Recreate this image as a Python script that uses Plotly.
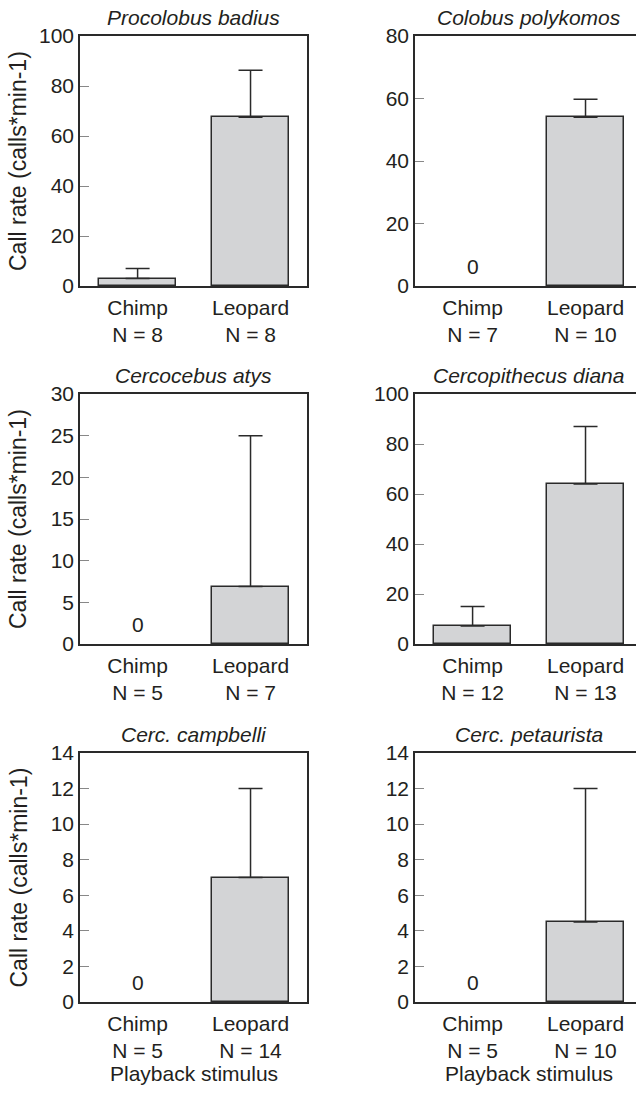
import plotly.graph_objects as go

# ---------------- data ----------------
species = ["Procolobus badius", "Colobus polykomos", "Cercocebus atys",
           "Cercopithecus diana", "Cerc. campbelli", "Cerc. petaurista"]
stimuli = ["Chimp", "Leopard"]
chimp_mean = [3.0, 0.0, 0.0, 7.2, 0.0, 0.0]
chimp_err_top = [7.0, None, None, 15.0, None, None]
leopard_mean = [67.5, 54.0, 6.9, 64.0, 7.0, 4.5]
leopard_err_top = [86.3, 59.8, 25.0, 87.0, 12.0, 12.0]
chimp_n = [8, 7, 5, 12, 5, 5]
leopard_n = [8, 10, 7, 13, 14, 10]
y_max = [100, 80, 30, 100, 14, 14]
y_dtick = [20, 20, 5, 20, 2, 2]
y_title = "Call rate (calls*min-1)"
x_title = "Playback stimulus"

# ---------------- layout constants ----------------
W, H = 636, 1094
FONT = "Liberation Sans, Arial, Helvetica, sans-serif"
INK = "#231f20"
EDGE = "#2a2a2a"
FILL = "#d3d4d6"
cols = [(80, 307, [-0.51, 1.5]), (415, 636, [-0.51, 1.447])]
rows = [(36, 286), (394, 644), (753, 1002)]

fig = go.Figure()
annotations = []
layout = {}

for i, name in enumerate(species):
    r, c = divmod(i, 2)
    x0, x1, xr = cols[c]
    ytop, ybot = rows[r]
    xa = "x" if i == 0 else f"x{i+1}"
    ya = "y" if i == 0 else f"y{i+1}"
    xkey = "xaxis" if i == 0 else f"xaxis{i+1}"
    ykey = "yaxis" if i == 0 else f"yaxis{i+1}"

    means = [chimp_mean[i], leopard_mean[i]]
    tops = [chimp_err_top[i], leopard_err_top[i]]
    plus = [(t - m) if t is not None else None for t, m in zip(tops, means)]
    minus = [0 if t is not None else None for t in tops]
    drawn = [m if m > 0 else None for m in means]  # zero means are shown as a "0" label

    fig.add_trace(go.Bar(
        x=[0, 1], y=drawn, width=0.68,
        marker=dict(color=FILL, line=dict(color=EDGE, width=1.5)),
        error_y=dict(type="data", symmetric=False, array=plus, arrayminus=minus,
                     color=EDGE, thickness=1.5, width=12),
        xaxis=xa, yaxis=ya, showlegend=False, hoverinfo="skip"))

    layout[xkey] = dict(
        domain=[x0 / W, x1 / W], range=xr, anchor=ya, automargin=False,
        tickvals=[0, 1],
        ticktext=[f"{stimuli[0]}<br>N = {chimp_n[i]}", f"{stimuli[1]}<br>N = {leopard_n[i]}"],
        showline=True, linecolor=EDGE, linewidth=1.5, mirror=True,
        ticks="", showgrid=False, zeroline=False, ticklabelstandoff=2,
        tickfont=dict(size=21, color=INK, family=FONT), fixedrange=True)
    layout[ykey] = dict(
        domain=[1 - ybot / H, 1 - ytop / H], range=[0, y_max[i]], anchor=xa,
        automargin=False,
        tick0=0, dtick=y_dtick[i], ticks="inside", ticklen=9, tickwidth=1,
        tickcolor="#888888",
        showline=True, linecolor=EDGE, linewidth=1.5, mirror=(c == 0),
        showgrid=False, zeroline=False,
        tickfont=dict(size=21, color=INK, family=FONT), fixedrange=True)

    cx = (x0 + (x0 + 227)) / 2 / W
    # panel title
    annotations.append(dict(
        text=f"<i>{name}</i>", xref="paper", yref="paper",
        x=cx, y=1 - ytop / H, xanchor="center", yanchor="bottom",
        yshift=5, showarrow=False, font=dict(size=21, color=INK, family=FONT)))

    # zero labels
    for k, m in enumerate(means):
        if m == 0:
            annotations.append(dict(
                text="0", xref=xa, yref=ya, x=k, y=0, xanchor="center", yanchor="bottom",
                yshift=6, showarrow=False, font=dict(size=21, color=INK, family=FONT)))

    # y title on left panels
    if c == 0:
        annotations.append(dict(
            text=y_title, xref="paper", yref="paper", x=18 / W,
            y=1 - (ytop + ybot) / 2 / H, xanchor="center", yanchor="middle",
            textangle=-90, showarrow=False, font=dict(size=23, color=INK, family=FONT)))
    # x title on bottom row
    if r == 2:
        annotations.append(dict(
            text=x_title, xref="paper", yref="paper",
            x=cx, y=1 - 1073 / H, xanchor="center", yanchor="middle",
            showarrow=False, font=dict(size=21, color=INK, family=FONT)))

fig.update_layout(
    template="none",
    width=W, height=H, margin=dict(l=0, r=0, t=0, b=0, autoexpand=False),
    paper_bgcolor="white", plot_bgcolor="white",
    font=dict(family=FONT, color=INK), showlegend=False,
    annotations=annotations, bargap=0, **layout)

fig.write_html("out.html", config={"displayModeBar": False})
